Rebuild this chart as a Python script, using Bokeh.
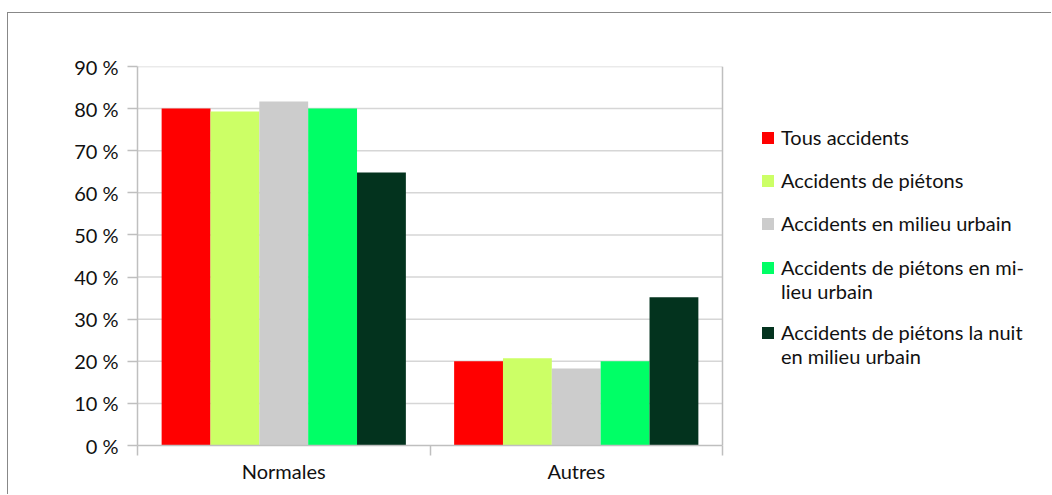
from bokeh.plotting import figure
from bokeh.models import ColumnDataSource, Range1d, FixedTicker, Legend, LegendItem, Span
from bokeh.transform import dodge
from bokeh.embed import file_html
from bokeh.resources import INLINE

categories = ["Normales", "Autres"]
series_names = [
    "Tous accidents",
    "Accidents de piétons",
    "Accidents en milieu urbain",
    "Accidents de piétons en mi-",
    "Accidents de piétons la nuit",
]
series_names_cont = [None, None, None, "lieu urbain", "en milieu urbain"]
series_colors = ["#ff0000", "#ccff66", "#cccccc", "#00ff66", "#03331e"]
tous_accidents = [80.0, 20.0]
accidents_pietons = [79.3, 20.7]
accidents_urbain = [81.7, 18.3]
accidents_pietons_urbain = [80.0, 20.0]
accidents_pietons_nuit_urbain = [64.8, 35.2]
series_values = [tous_accidents, accidents_pietons, accidents_urbain,
                 accidents_pietons_urbain, accidents_pietons_nuit_urbain]
y_ticks = [0, 10, 20, 30, 40, 50, 60, 70, 80, 90]
y_tick_labels = ["0 %", "10 %", "20 %", "30 %", "40 %", "50 %", "60 %", "70 %", "80 %", "90 %"]

FONT = "Lato"
TXT = "#111111"
AXIS = "#bfbfbf"
GRID = "#d6d6d6"
BAR_W = 0.167

W, H = 1044, 482
MB_LEFT, MB_TOP, MB_BOTTOM = 129, 53, 50
PLOT_AREA_W = 585          # pixel width of the bar area (categories span)
n_cat = len(categories)
x_end = n_cat * (W - MB_LEFT) / PLOT_AREA_W

cat_pos = [i + 0.5 for i in range(n_cat)]
data = {"x": cat_pos, "cat": categories}
keys = []
for i, vals in enumerate(series_values):
    k = f"s{i}"
    data[k] = vals
    keys.append(k)
src = ColumnDataSource(data)

p = figure(width=W, height=H, x_range=Range1d(0, x_end),
           y_range=Range1d(0, 90), output_backend="svg", toolbar_location=None,
           min_border_left=MB_LEFT, min_border_top=MB_TOP, min_border_right=0,
           min_border_bottom=MB_BOTTOM)
p.styles = {"margin-top": "12px", "margin-left": "7px",
            "border-top": "1px solid #888888", "border-left": "1px solid #888888"}
p.outline_line_color = None
p.xgrid.grid_line_color = None
p.ygrid.grid_line_color = None

# horizontal gridlines limited to the category area
grid_src = ColumnDataSource({"y": y_ticks[1:], "x0": [0] * (len(y_ticks) - 1),
                             "x1": [n_cat] * (len(y_ticks) - 1)})
p.segment(x0="x0", x1="x1", y0="y", y1="y", source=grid_src,
          line_color=GRID, line_width=1.5)

bar_renderers = []
ghost_renderers = []
n = len(keys)
for i, k in enumerate(keys):
    off = (i - (n - 1) / 2) * BAR_W
    r = p.vbar(x=dodge("x", off, range=p.x_range), top=k, width=BAR_W, bottom=0,
               source=src, fill_color=series_colors[i], line_color=None)
    bar_renderers.append(r)
    g = p.vbar(x=dodge("x", off, range=p.x_range), top=k, width=BAR_W, bottom=0,
               source=src, fill_alpha=0, line_alpha=0)
    ghost_renderers.append(g)

# right border of plot area
p.add_layout(Span(location=n_cat, dimension="height", line_color=AXIS, line_width=1.5))

# y axis
p.yaxis.ticker = FixedTicker(ticks=y_ticks)
p.yaxis.major_label_overrides = {t: l for t, l in zip(y_ticks, y_tick_labels)}
p.yaxis.axis_line_color = AXIS
p.yaxis.axis_line_width = 1.5
p.yaxis.major_tick_line_color = AXIS
p.yaxis.major_tick_line_width = 1.5
p.yaxis.major_tick_out = 10
p.yaxis.major_tick_in = 0
p.yaxis.minor_tick_line_color = None
p.yaxis.major_label_standoff = 9
p.yaxis.major_label_text_font = FONT
p.yaxis.major_label_text_font_size = "20px"
p.yaxis.major_label_text_color = TXT

# x axis: labels at category centres, ticks at boundaries
bounds = [float(i) for i in range(n_cat + 1)]
p.xaxis.ticker = FixedTicker(ticks=cat_pos, minor_ticks=bounds)
p.xaxis.major_label_overrides = {c: l for c, l in zip(cat_pos, categories)}
p.xaxis.bounds = (0, n_cat)
p.xaxis.axis_line_color = AXIS
p.xaxis.axis_line_width = 1.5
p.xaxis.major_tick_line_color = None
p.xaxis.major_tick_out = 0
p.xaxis.major_tick_in = 0
p.xaxis.minor_tick_line_color = AXIS
p.xaxis.minor_tick_line_width = 1.5
p.xaxis.minor_tick_out = 10
p.xaxis.minor_tick_in = 0
p.xaxis.major_label_standoff = 3
p.xaxis.major_label_text_font = FONT
p.xaxis.major_label_text_font_size = "20px"
p.xaxis.major_label_text_color = TXT


def make_legend(items, location, spacing):
    lg = Legend(items=items, location=location)
    lg.glyph_width = 15
    lg.glyph_height = 15
    lg.label_standoff = 6
    lg.label_height = 21
    lg.spacing = spacing
    lg.padding = 0
    lg.margin = 0
    lg.border_line_color = None
    lg.background_fill_alpha = 0
    lg.label_text_font = FONT
    lg.label_text_font_size = "20px"
    lg.label_text_color = TXT
    p.add_layout(lg, "center")
    return lg


# simple one-line entries
make_legend([LegendItem(label=series_names[i], renderers=[bar_renderers[i]])
             for i in range(3)], (623, 210), 19)
# two-line entries (glyph on the first line)
for i, loc in ((3, (623, 142)), (4, (623, 77))):
    make_legend([LegendItem(label=series_names[i], renderers=[bar_renderers[i]]),
                 LegendItem(label=series_names_cont[i], renderers=[ghost_renderers[i]])],
                loc, -3)

open("out.html", "w").write(file_html(p, INLINE))
